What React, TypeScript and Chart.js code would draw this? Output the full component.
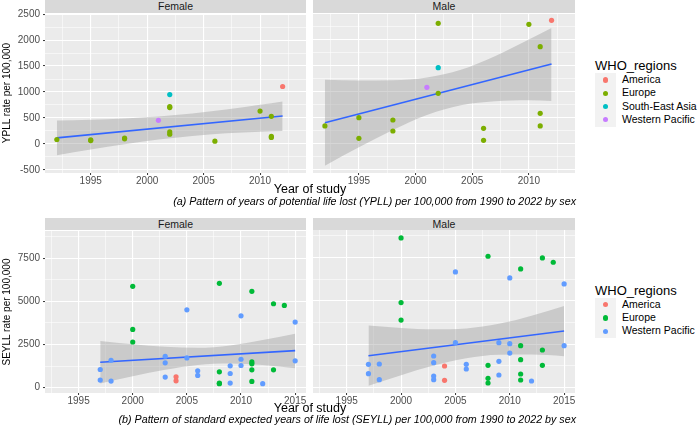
import React, { useEffect, useRef } from "react";
import { Chart, registerables } from "chart.js";
Chart.register(...registerables);

const FONT = "'Liberation Sans', Arial, Helvetica, sans-serif";
const NARROW = "'Liberation Sans Narrow', 'Arial Narrow', 'Liberation Sans', sans-serif";

// ---------- categories & colours ----------
const regionsA = ["America", "Europe", "South-East Asia", "Western Pacific"];
const colorsA = ["#F8766D", "#7CAE00", "#00BFC4", "#C77CFF"];
const regionsB = ["America", "Europe", "Western Pacific"];
const colorsB = ["#F8766D", "#00BA38", "#619CFF"];

// ---------- (a) YPLL per 100,000 : [year, rate] ----------
const ypllFemaleAmerica = [[2012, 1105]];
const ypllFemaleEurope = [
  [1992, 84], [1995, 64], [1995, 76], [1998, 96], [1998, 112], [2002, 700], [2002, 716],
  [2002, 230], [2002, 186], [2006, 51], [2010, 632], [2011, 530], [2011, 124], [2011, 144],
];
const ypllFemaleSEAsia = [[2002, 950]];
const ypllFemaleWPacific = [[2001, 453]];

const ypllMaleAmerica = [[2012, 2363]];
const ypllMaleEurope = [
  [1992, 339], [1995, 498], [1995, 102], [1998, 453], [1998, 243], [2002, 2306], [2002, 965],
  [2006, 294], [2006, 64], [2010, 2286], [2011, 1858], [2011, 581], [2011, 339],
];
const ypllMaleSEAsia = [[2002, 1456]];
const ypllMaleWPacific = [[2001, 1079]];

const ypllFitYears = [1992, 2012];
const ypllFemaleFit = [115, 536];
const ypllMaleFit = [402, 1526];
const ypllBandYears = [1992, 1995, 1998, 2001, 2004, 2007, 2010, 2012];
const ypllFemaleUpper = [450, 465, 489, 527, 583, 660, 753, 818];
const ypllFemaleLower = [-220, -109, -7, 83, 153, 202, 235, 250];
const ypllMaleUpper = [1225, 1212, 1216, 1268, 1416, 1676, 1997, 2215];
const ypllMaleLower = [-421, -70, 262, 548, 736, 814, 831, 818];

// ---------- (b) SEYLL per 100,000 : [year, rate] ----------
const seyllFemaleAmerica = [[2004, 630], [2004, 400]];
const seyllFemaleEurope = [
  [2000, 5870], [2000, 3375], [2000, 2645], [2008, 6040], [2008, 921], [2008, 232], [2008, 262],
  [2011, 5580], [2011, 1496], [2011, 1381], [2011, 1036], [2011, 366], [2013, 4860], [2013, 1036],
  [2014, 4760],
];
const seyllFemaleWPacific = [
  [1997, 1056], [1997, 443], [1998, 1590], [1998, 386], [2003, 1822], [2003, 1439], [2003, 615],
  [2005, 4510], [2005, 1726], [2006, 979], [2006, 711], [2009, 1265], [2009, 824], [2009, 268],
  [2010, 4160], [2010, 1649], [2010, 1285], [2012, 232], [2015, 3800], [2015, 1554],
];

const seyllMaleAmerica = [[2004, 1247], [2004, 423]];
const seyllMaleEurope = [
  [2000, 8615], [2000, 4893], [2000, 3891], [2008, 7560], [2008, 1286], [2008, 538], [2008, 270],
  [2011, 6831], [2011, 2415], [2011, 1611], [2011, 787], [2011, 442], [2013, 7463], [2013, 2167],
  [2013, 1286], [2014, 7214],
];
const seyllMaleWPacific = [
  [1997, 1343], [1997, 807], [1998, 1362], [1998, 462], [2003, 1822], [2003, 1439], [2003, 672],
  [2003, 462], [2005, 6658], [2005, 2588], [2006, 1343], [2006, 1075], [2009, 2588], [2009, 1516],
  [2009, 730], [2010, 6312], [2010, 2530], [2010, 1993], [2012, 385], [2015, 5967], [2015, 2415],
];

const seyllFitYears = [1997, 2015];
const seyllFemaleFit = [1477, 2148];
const seyllMaleFit = [1841, 3259];
const seyllBandYears = [1997, 2000, 2003, 2006, 2009, 2012, 2015];
const seyllFemaleUpper = [2703, 2516, 2364, 2308, 2450, 2764, 3130];
const seyllFemaleLower = [251, 662, 1038, 1318, 1400, 1308, 1120];
const seyllMaleUpper = [3575, 3434, 3356, 3406, 3673, 4140, 4700];
const seyllMaleLower = [107, 720, 1272, 1694, 1899, 1906, 1815];

// ---------- tick labels ----------
const ypllYearTicks = [1995, 2000, 2005, 2010];
const ypllRateTicks = [-500, 0, 500, 1000, 1500, 2000, 2500];
const seyllYearTicks = [1995, 2000, 2005, 2010, 2015];
const seyllRateTicks = [0, 2500, 5000, 7500];

const captionA = "(a) Pattern of years of potential life lost (YPLL) per 100,000 from 1990 to 2022 by sex";
const captionB = "(b) Pattern of standard expected years of life lost (SEYLL) per 100,000 from 1990 to 2022 by sex";

type Pt = number[];
interface PanelSpec {
  left: number; top: number; width: number; height: number;
  showY: boolean;
  xRange: [number, number]; yRange: [number, number];
  xMajor: number[]; yMajor: number[];
  groups: { color: string; pts: Pt[] }[];
  fitX: number[]; fitY: number[];
  bandX: number[]; bandU: number[]; bandL: number[];
}

function withMinors(major: number[], lo: number, hi: number): number[] {
  const step = major[1] - major[0];
  const out: number[] = [];
  for (let v = major[0] - step; v <= major[major.length - 1] + step + 1e-9; v += step / 2) {
    if (v >= lo && v <= hi) out.push(v);
  }
  return out;
}

const bgPlugin = {
  id: "panelBg",
  beforeDraw(chart: any) {
    const { ctx, chartArea: a } = chart;
    ctx.save();
    ctx.fillStyle = "#EBEBEB";
    ctx.fillRect(a.left, a.top, a.right - a.left, a.bottom - a.top);
    ctx.restore();
  },
};

function Panel({ s }: { s: PanelSpec }) {
  const ref = useRef<HTMLCanvasElement>(null);
  const yW = s.showY ? 45 : 0;
  const padL = s.showY ? 0 : 10;
  const padR = 16, padT = 8, xH = 16;
  const cw = yW + padL + s.width + padR;
  const ch = padT + s.height + xH;
  const cLeft = s.left - yW - padL;
  const cTop = s.top - padT;

  useEffect(() => {
    const c = ref.current!;
    const xTicks = withMinors(s.xMajor, s.xRange[0], s.xRange[1]);
    const yTicks = withMinors(s.yMajor, s.yRange[0], s.yRange[1]);
    const isMajX = (v: number) => s.xMajor.some((m) => Math.abs(m - v) < 1e-6);
    const isMajY = (v: number) => s.yMajor.some((m) => Math.abs(m - v) < 1e-6);
    const datasets: any[] = [
      ...s.groups.map((g) => ({
        type: "scatter",
        data: g.pts.map(([x, y]) => ({ x, y })),
        backgroundColor: g.color,
        borderWidth: 0,
        pointRadius: 2.6,
        pointHoverRadius: 2.6,
        order: 0,
      })),
      {
        type: "line",
        data: s.fitX.map((x, i) => ({ x, y: s.fitY[i] })),
        borderColor: "#3366FF",
        borderWidth: 1.6,
        pointRadius: 0,
        fill: false,
        order: 1,
      },
      {
        type: "line",
        data: s.bandX.map((x, i) => ({ x, y: s.bandU[i] })),
        borderWidth: 0,
        borderColor: "rgba(0,0,0,0)",
        backgroundColor: "rgba(153,153,153,0.4)",
        pointRadius: 0,
        cubicInterpolationMode: "monotone",
        fill: "+1",
        order: 2,
      },
      {
        type: "line",
        data: s.bandX.map((x, i) => ({ x, y: s.bandL[i] })),
        borderWidth: 0,
        borderColor: "rgba(0,0,0,0)",
        pointRadius: 0,
        cubicInterpolationMode: "monotone",
        fill: false,
        order: 3,
      },
    ];
    const chart = new Chart(c, {
      type: "scatter",
      data: { datasets },
      options: {
        responsive: false,
        animation: false,
        devicePixelRatio: 1,
        events: [],
        layout: { padding: { left: padL, right: padR, top: padT, bottom: 0 } },
        plugins: { legend: { display: false }, tooltip: { enabled: false } },
        scales: {
          x: {
            type: "linear",
            min: s.xRange[0],
            max: s.xRange[1],
            afterBuildTicks: (sc: any) => { sc.ticks = xTicks.map((v) => ({ value: v })); },
            afterFit: (sc: any) => { sc.height = xH; },
            border: { display: false },
            grid: {
              color: "#FFFFFF",
              lineWidth: (ctx: any) => (ctx.tick && isMajX(ctx.tick.value) ? 1.1 : 0.55),
              tickLength: 2,
              tickWidth: 1,
              tickColor: (ctx: any) => (ctx.tick && isMajX(ctx.tick.value) ? "#333333" : "rgba(0,0,0,0)"),
            },
            ticks: {
              autoSkip: false,
              maxRotation: 0,
              padding: 0,
              color: "#4D4D4D",
              font: { family: FONT, size: 10 },
              callback: (v: any) => (isMajX(Number(v)) ? String(v) : ""),
            },
          },
          y: {
            type: "linear",
            min: s.yRange[0],
            max: s.yRange[1],
            afterBuildTicks: (sc: any) => { sc.ticks = yTicks.map((v) => ({ value: v })); },
            afterFit: (sc: any) => { sc.width = yW; },
            border: { display: false },
            grid: {
              color: "#FFFFFF",
              lineWidth: (ctx: any) => (ctx.tick && isMajY(ctx.tick.value) ? 1.1 : 0.55),
              drawTicks: s.showY,
              tickLength: 2,
              tickWidth: 1,
              tickColor: (ctx: any) => (ctx.tick && isMajY(ctx.tick.value) ? "#333333" : "rgba(0,0,0,0)"),
            },
            ticks: {
              display: s.showY,
              autoSkip: false,
              padding: 3,
              color: "#4D4D4D",
              font: { family: FONT, size: 10 },
              callback: (v: any) => (isMajY(Number(v)) ? String(v) : ""),
            },
          },
        },
      } as any,
      plugins: [bgPlugin],
    });
    return () => chart.destroy();
  }, []);

  return (
    <canvas
      ref={ref}
      width={cw}
      height={ch}
      style={{ position: "absolute", left: cLeft, top: cTop, width: cw, height: ch }}
    />
  );
}

function Strip({ left, top, width, height, label }: any) {
  return (
    <div
      style={{
        position: "absolute", left, top, width, height, background: "#D9D9D9",
        color: "#1A1A1A", font: `10.5px ${FONT}`, lineHeight: `${height}px`, textAlign: "center",
      }}
    >
      {label}
    </div>
  );
}

function Legend({ top, regions, colors }: { top: number; regions: string[]; colors: string[] }) {
  const rowH = 13.3;
  return (
    <>
      <div style={{ position: "absolute", left: 595, top: top - 8, height: 16, lineHeight: "16px", font: `13px ${FONT}`, color: "#000", whiteSpace: "nowrap" }}>
        WHO_regions
      </div>
      {regions.map((r, i) => {
        const cy = top + 14 + i * rowH;
        return (
          <React.Fragment key={r}>
            <div style={{ position: "absolute", left: 595, top: cy - rowH / 2, width: 21, height: rowH, background: "#F2F2F2" }} />
            <div style={{ position: "absolute", left: 605.5 - 2.6, top: cy - 2.6, width: 5.2, height: 5.2, borderRadius: "50%", background: colors[i] }} />
            <div style={{ position: "absolute", left: 622, top: cy - 7, height: 14, lineHeight: "14px", font: `10.5px ${FONT}`, color: "#000", whiteSpace: "nowrap" }}>
              {r}
            </div>
          </React.Fragment>
        );
      })}
    </>
  );
}

function Text({ x, y, text, size, align, italic, font }: any) {
  const tx = align === "right" ? "-100%" : align === "left" ? "0" : "-50%";
  return (
    <div
      style={{
        position: "absolute", left: x, top: y, transform: `translate(${tx}, -50%)`,
        font: `${italic ? "italic " : ""}${size}px ${font || FONT}`, color: "#000", whiteSpace: "nowrap", lineHeight: 1.2,
      }}
    >
      {text}
    </div>
  );
}

function YTitle({ x, y, text }: any) {
  return (
    <div
      style={{
        position: "absolute", left: x, top: y, transform: "translate(-50%, -50%) rotate(-90deg)",
        font: `10px ${NARROW}`, color: "#000", whiteSpace: "nowrap", lineHeight: 1.2,
      }}
    >
      {text}
    </div>
  );
}

export default function App() {
  const xA: [number, number] = [1990.95, 2014.07];
  const yA: [number, number] = [-562, 2503];
  const xB: [number, number] = [1991.9, 2016.0];
  const yB: [number, number] = [-305, 9069];

  const panels: PanelSpec[] = [
    {
      left: 45, top: 13, width: 261, height: 160, showY: true, xRange: xA, yRange: yA,
      xMajor: ypllYearTicks, yMajor: ypllRateTicks,
      groups: [
        { color: colorsA[0], pts: ypllFemaleAmerica },
        { color: colorsA[1], pts: ypllFemaleEurope },
        { color: colorsA[2], pts: ypllFemaleSEAsia },
        { color: colorsA[3], pts: ypllFemaleWPacific },
      ],
      fitX: ypllFitYears, fitY: ypllFemaleFit,
      bandX: ypllBandYears, bandU: ypllFemaleUpper, bandL: ypllFemaleLower,
    },
    {
      left: 313, top: 13, width: 262, height: 160, showY: false, xRange: xA, yRange: yA,
      xMajor: ypllYearTicks, yMajor: ypllRateTicks,
      groups: [
        { color: colorsA[0], pts: ypllMaleAmerica },
        { color: colorsA[1], pts: ypllMaleEurope },
        { color: colorsA[2], pts: ypllMaleSEAsia },
        { color: colorsA[3], pts: ypllMaleWPacific },
      ],
      fitX: ypllFitYears, fitY: ypllMaleFit,
      bandX: ypllBandYears, bandU: ypllMaleUpper, bandL: ypllMaleLower,
    },
    {
      left: 45, top: 230, width: 261, height: 163, showY: true, xRange: xB, yRange: yB,
      xMajor: seyllYearTicks, yMajor: seyllRateTicks,
      groups: [
        { color: colorsB[0], pts: seyllFemaleAmerica },
        { color: colorsB[1], pts: seyllFemaleEurope },
        { color: colorsB[2], pts: seyllFemaleWPacific },
      ],
      fitX: seyllFitYears, fitY: seyllFemaleFit,
      bandX: seyllBandYears, bandU: seyllFemaleUpper, bandL: seyllFemaleLower,
    },
    {
      left: 313, top: 230, width: 262, height: 163, showY: false, xRange: xB, yRange: yB,
      xMajor: seyllYearTicks, yMajor: seyllRateTicks,
      groups: [
        { color: colorsB[0], pts: seyllMaleAmerica },
        { color: colorsB[1], pts: seyllMaleEurope },
        { color: colorsB[2], pts: seyllMaleWPacific },
      ],
      fitX: seyllFitYears, fitY: seyllMaleFit,
      bandX: seyllBandYears, bandU: seyllMaleUpper, bandL: seyllMaleLower,
    },
  ];

  return (
    <div style={{ position: "fixed", left: 0, top: 0, width: 700, height: 425, background: "#FFFFFF", overflow: "hidden" }}>
      {panels.map((p, i) => <Panel key={i} s={p} />)}
      <Strip left={45} top={0} width={261} height={13} label="Female" />
      <Strip left={313} top={0} width={262} height={13} label="Male" />
      <Strip left={45} top={218} width={261} height={12} label="Female" />
      <Strip left={313} top={218} width={262} height={12} label="Male" />
      <YTitle x={6.5} y={93} text="YPLL rate per 100,000" />
      <YTitle x={6.5} y={311.5} text="SEYLL rate per 100,000" />
      <Text x={310} y={189} text="Year of study" size={12.5} />
      <Text x={310} y={408} text="Year of study" size={12.5} />
      <Text x={576} y={200.5} text={captionA} size={10.7} italic align="right" />
      <Text x={576} y={419} text={captionB} size={10.7} italic align="right" />
      <Legend top={66} regions={regionsA} colors={colorsA} />
      <Legend top={290.7} regions={regionsB} colors={colorsB} />
    </div>
  );
}
